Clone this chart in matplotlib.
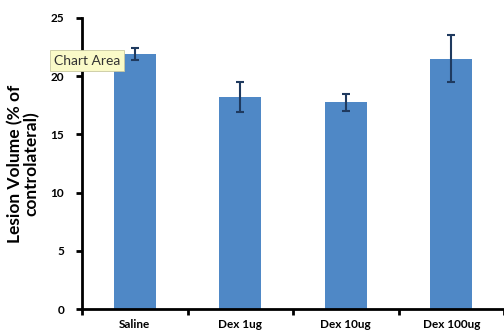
import matplotlib
matplotlib.use("Agg")
import matplotlib.pyplot as plt
import numpy as np

categories = ["Saline", "Dex 1ug", "Dex 10ug", "Dex 100ug"]
values = [21.9, 18.2, 17.75, 21.5]
errors = [0.5, 1.3, 0.75, 2.0]
yticks = [0, 5, 10, 15, 20, 25]

plt.rcParams['font.family'] = ['Lato', 'DejaVu Sans']

fig = plt.figure(figsize=(5.04, 3.33), dpi=100)
ax = fig.add_axes([0.163, 0.072, 0.837, 0.874])

x = np.arange(len(categories))
ax.bar(x, values, width=0.4, color="#4F88C6", zorder=2)
ax.errorbar(x, values, yerr=errors, fmt="none", ecolor="#1F3A5F",
            elinewidth=1.5, capsize=3, capthick=1.5, zorder=3)

ax.set_xlim(-0.5, 3.5)
ax.set_ylim(0, 25)
ax.set_yticks(yticks)
ax.set_yticklabels([str(t) for t in yticks], fontsize=8.5, fontweight="bold")
ax.set_xticks(x)
ax.set_xticklabels(categories, fontsize=8.5, fontweight="bold")
ax.tick_params(axis="x", which="major", length=0, pad=7)
ax.set_xticks(np.arange(-0.5, 3.6, 1.0), minor=True)
ax.tick_params(axis="x", which="minor", length=4, width=2, direction="out")
ax.tick_params(axis="y", length=4, width=2, direction="out", pad=9)

for s in ["top", "right"]:
    ax.spines[s].set_visible(False)
for s in ["left", "bottom"]:
    ax.spines[s].set_linewidth(2)

ax.set_ylabel("Lesion Volume (% of\ncontrolateral)", fontsize=12.5,
              fontweight="bold", labelpad=8, linespacing=1.0)

fig.text(0.107, 0.818, "Chart Area", fontsize=10, color="#333333",
         va="center", ha="left",
         bbox=dict(boxstyle="square,pad=0.3", fc="#FAFAC8", ec="#C8C8A0", lw=0.6),
         zorder=10)

fig.savefig("out.png", dpi=100)
